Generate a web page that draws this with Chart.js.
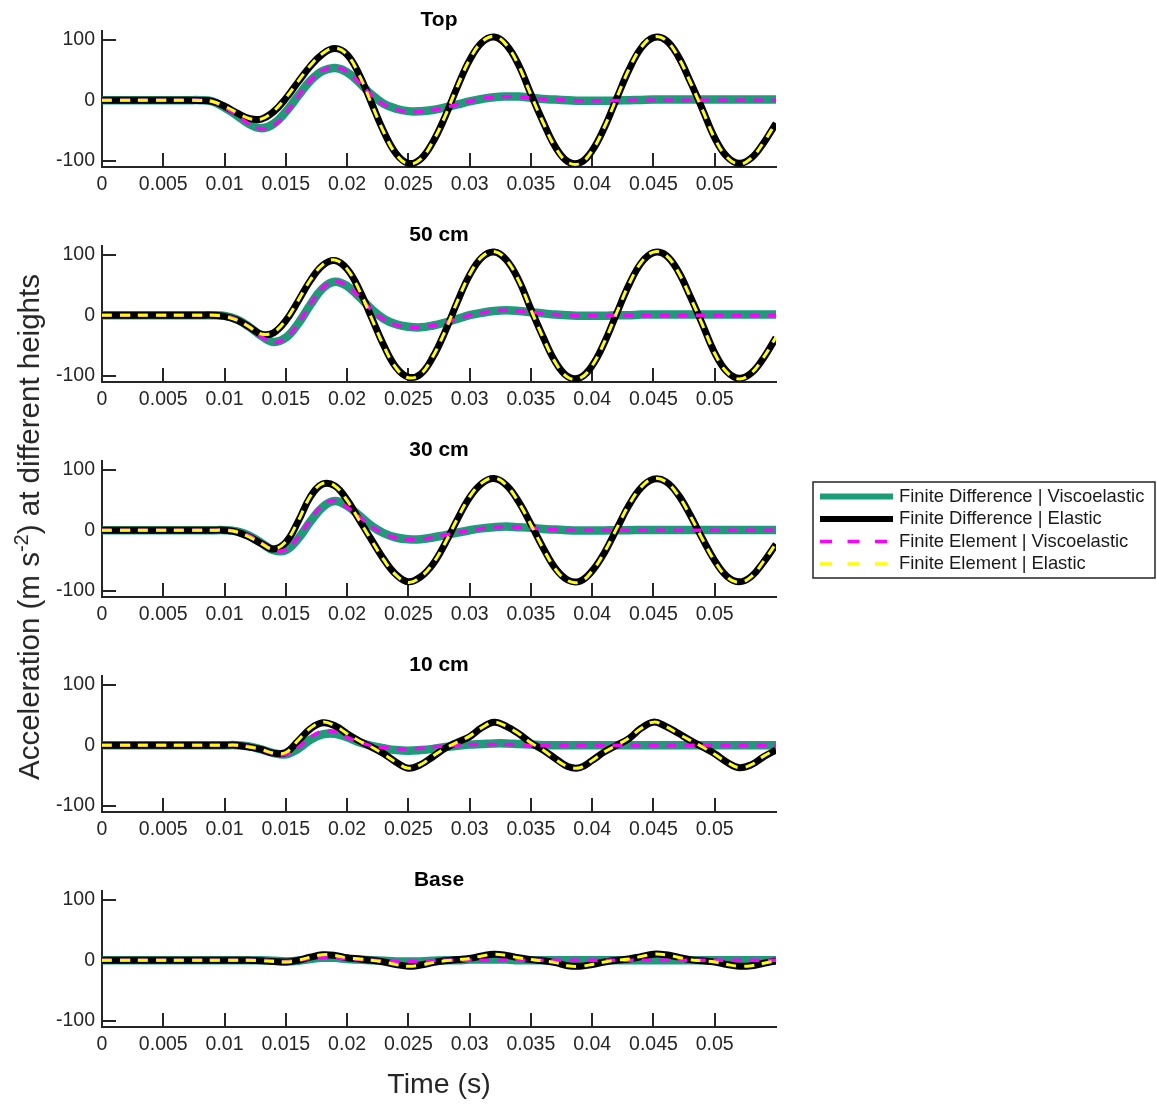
<!doctype html>
<html lang="en">
<head>
  <meta charset="UTF-8" />
  <title>Acceleration at different heights</title>
  <script src="https://cdn.jsdelivr.net/npm/chart.js@4.4.4/dist/chart.umd.min.js"></script>
  <style>
    body {
      margin: 0;
      background: #fff;
    }
    .figure {
      position: relative;
      width: 1157px;
      height: 1105px;
      overflow: hidden;
      background: #fff;
    }
    .figure canvas {
      position: absolute;
      left: 0;
    }
    .ylabel {
      position: absolute;
      left: 29px;
      top: 527px;
      transform: translate(-50%, -50%) rotate(-90deg);
      white-space: nowrap;
      font: 29.5px "Liberation Sans", Arial, sans-serif;
      color: #262626;
    }
    .ylabel sup {
      font-size: 0.68em;
      vertical-align: 0.55em;
      line-height: 0;
    }
  </style>
</head>
<body>
  <div class="figure">
    <canvas id="pTop" width="800" height="215" style="top:0px"></canvas>
    <canvas id="p50" width="800" height="215" style="top:215px"></canvas>
    <canvas id="p30" width="1157" height="215" style="top:430px"></canvas>
    <canvas id="p10" width="800" height="215" style="top:645px"></canvas>
    <canvas id="pBase" width="800" height="245" style="top:860px"></canvas>
    <div class="ylabel">Acceleration (m s<sup>-2</sup>) at different heights</div>
  </div>

  <script>
    // time samples (s) shared by every series
    const timeS = [
      0, 0.001, 0.002, 0.003, 0.004, 0.005, 0.006, 0.007, 0.008, 0.009,
      0.010, 0.011, 0.012, 0.013, 0.014, 0.015, 0.016, 0.017, 0.018, 0.019,
      0.020, 0.021, 0.022, 0.023, 0.024, 0.025, 0.026, 0.027, 0.028, 0.029,
      0.030, 0.031, 0.032, 0.033, 0.034, 0.035, 0.036, 0.037, 0.038, 0.039,
      0.040, 0.041, 0.042, 0.043, 0.044, 0.045, 0.046, 0.047, 0.048, 0.049,
      0.050, 0.051, 0.052, 0.053, 0.054, 0.055
    ];

    const xTickVals = [0, 0.005, 0.01, 0.015, 0.02, 0.025, 0.03, 0.035, 0.04, 0.045, 0.05];
    const xTickText = ['0', '0.005', '0.01', '0.015', '0.02', '0.025', '0.03', '0.035', '0.04', '0.045', '0.05'];
    const yTickVals = [-100, 0, 100];
    const yTickText = ['-100', '0', '100'];

    const panelTitles = ['Top', '50 cm', '30 cm', '10 cm', 'Base'];
    const seriesNames = [
      'Finite Difference | Viscoelastic',
      'Finite Difference | Elastic',
      'Finite Element | Viscoelastic',
      'Finite Element | Elastic'
    ];

    // Top
    const topFdVisco = [
      0, 0, 0, 0, 0, 0, 0, 0, 0, -2,
      -12, -25, -39, -46, -39, -19, 7, 32, 48, 53,
      46, 29, 9, -6, -14, -18, -18, -16, -12, -7,
      -2, 2, 5, 6, 6, 4, 2, 1, 0, -1,
      -1, -1, -0.5, 0, 0.5, 1, 1, 1, 1, 1,
      1, 1, 1, 1, 1, 1
    ];
    const topFdElastic = [
      0, 0, 0, 0, 0, 0, 0, 0, -0.5, -2,
      -10, -21, -30, -31, -19, 3, 30, 56, 76, 85,
      75, 42, -5, -52, -88, -104, -97, -69, -27, 22,
      66, 95, 104, 91, 58, 10, -36, -77, -101, -103,
      -83, -45, 3, 50, 86, 103, 99, 73, 31, -15,
      -62, -93, -104, -95, -70, -38
    ];
    const topFeVisco = [
      0, 0, 0, 0, 0, 0, 0, 0, 0, -2,
      -12, -25, -39, -47, -42, -21, 6, 32, 49, 54,
      47, 29, 8, -7, -15, -19, -19, -16, -12, -7,
      -2, 3, 5, 6, 6, 4, 2, 1, 0, -1,
      -1, -1, -0.5, 0, 0, 0, 0, 0, 0, 0,
      0, 0, 0, 0, 0, 0
    ];
    const topFeElastic = [
      0, 0, 0, 0, 0, 0, 0, 0, -0.5, -2,
      -10, -20, -30, -31, -18, 4, 31, 57, 77, 86,
      75, 41, -6, -53, -89, -105, -97, -68, -26, 23,
      67, 96, 105, 91, 57, 9, -37, -78, -102, -104,
      -83, -44, 4, 51, 87, 104, 99, 72, 30, -16,
      -63, -94, -105, -95, -69, -37
    ];

    // 50 cm
    const cm50FdVisco = [
      0, 0, 0, 0, 0, 0, 0, 0, 0, 0,
      -1, -7, -19, -34, -44, -37, -14, 17, 44, 55,
      48, 30, 10, -6, -15, -19, -20, -17, -12, -6,
      0, 4, 7, 8, 7, 5, 3, 1, 0, -1,
      -1, -1, 0, 0, 1, 1, 1, 1, 1, 1,
      1, 1, 1, 1, 1, 1
    ];
    const cm50FdElastic = [
      0, 0, 0, 0, 0, 0, 0, 0, 0, 0,
      -2, -8, -19, -31, -29, -9, 23, 57, 82, 90,
      76, 42, -4, -50, -86, -102, -97, -69, -27, 22,
      66, 95, 104, 91, 58, 10, -36, -77, -101, -103,
      -83, -45, 3, 50, 86, 103, 99, 73, 31, -15,
      -62, -93, -104, -95, -70, -37
    ];
    const cm50FeVisco = [
      0, 0, 0, 0, 0, 0, 0, 0, 0, 0,
      -1, -7, -19, -35, -45, -38, -14, 18, 45, 56,
      48, 30, 9, -7, -16, -20, -20, -17, -12, -6,
      0, 4, 7, 8, 7, 5, 3, 1, 0, -1,
      -1, -1, 0, 0, 0, 0, 0, 0, 0, 0,
      0, 0, 0, 0, 0, 0
    ];
    const cm50FeElastic = [
      0, 0, 0, 0, 0, 0, 0, 0, 0, 0,
      -2, -8, -19, -31, -28, -8, 24, 58, 83, 91,
      76, 41, -5, -51, -87, -103, -97, -68, -26, 23,
      67, 96, 105, 91, 57, 9, -37, -78, -102, -104,
      -83, -44, 4, 51, 87, 104, 99, 72, 30, -16,
      -63, -94, -105, -95, -69, -36
    ];

    // 30 cm
    const cm30FdVisco = [
      0, 0, 0, 0, 0, 0, 0, 0, 0, 0,
      0, -2, -9, -21, -33, -33, -14, 14, 38, 48,
      40, 24, 7, -5, -12, -15, -15, -12, -8, -4,
      0, 3, 5, 6, 5, 4, 2, 1, 0, -0.5,
      -0.5, -0.5, 0, 0, 0.5, 0.5, 0.5, 0.5, 0.5, 0.5,
      0.5, 0.5, 0.5, 0.5, 0.5, 0.5
    ];
    const cm30FdElastic = [
      0, 0, 0, 0, 0, 0, 0, 0, 0, 0,
      0, -3, -11, -22, -31, -20, 14, 55, 76, 73,
      50, 17, -16, -48, -73, -85, -77, -56, -22, 18,
      54, 77, 85, 74, 47, 10, -29, -63, -82, -84,
      -67, -37, 2, 41, 70, 84, 80, 59, 25, -14,
      -50, -76, -85, -76, -52, -23
    ];
    const cm30FeVisco = [
      0, 0, 0, 0, 0, 0, 0, 0, 0, 0,
      0, -2, -9, -21, -33, -32, -12, 17, 41, 49,
      38, 22, 6, -6, -13, -15, -15, -12, -8, -4,
      0, 3, 5, 6, 5, 4, 2, 1, 0, 0,
      0, 0, 0, 0, 0, 0, 0, 0, 0, 0,
      0, 0, 0, 0, 0, 0
    ];
    const cm30FeElastic = [
      0, 0, 0, 0, 0, 0, 0, 0, 0, 0,
      0, -3, -11, -22, -31, -19, 15, 56, 77, 73,
      49, 16, -17, -49, -74, -86, -77, -55, -21, 19,
      55, 78, 86, 74, 46, 9, -30, -64, -83, -85,
      -67, -36, 3, 42, 71, 85, 80, 58, 24, -15,
      -51, -77, -86, -76, -51, -22
    ];

    // 10 cm
    const cm10FdVisco = [
      0, 0, 0, 0, 0, 0, 0, 0, 0, 0,
      0, 0, -2, -7, -13, -15, -6, 9, 18, 19,
      13, 5, -1, -5, -8, -9, -8, -6, -3, -1,
      1, 2, 3, 3, 2, 1, 0, 0, 0, 0,
      0, 0, 0, 0, 0, 0, 0, 0, 0, 0,
      0, 0, 0, 0, 0, 0
    ];
    const cm10FdElastic = [
      0, 0, 0, 0, 0, 0, 0, 0, 0, 0,
      0, 0, -3, -7, -13, -12, 7, 27, 37, 32,
      19, 7, -3, -14, -28, -38, -32, -19, -5, 5,
      14, 29, 38, 31, 19, 4, -8, -22, -35, -37,
      -25, -11, 0, 11, 28, 38, 31, 20, 8, -3,
      -14, -28, -37, -32, -19, -8
    ];
    const cm10FeVisco = [
      0, 0, 0, 0, 0, 0, 0, 0, 0, 0,
      0, 0, -2, -7, -14, -15, -4, 13, 23, 22,
      13, 5, -1, -4, -6, -6, -5, -3, -1, 0,
      1, 1, 1, 1, 1, 0, 0, 0, 0, 0,
      0, 0, 0, 0, 0, 0, 0, 0, 0, 0,
      0, 0, 0, 0, 0, 0
    ];
    const cm10FeElastic = [
      0, 0, 0, 0, 0, 0, 0, 0, 0, 0,
      0, 0, -3, -7, -13, -12, 8, 28, 38, 32,
      19, 7, -3, -15, -28, -38, -32, -18, -5, 5,
      15, 29, 38, 31, 19, 4, -8, -23, -35, -37,
      -25, -11, 0, 12, 28, 38, 31, 19, 8, -3,
      -15, -28, -37, -32, -18, -7
    ];

    // Base
    const baseFdVisco = [
      0, 0, 0, 0, 0, 0, 0, 0, 0, 0,
      0, 0, 0, 0, -1, -2, -1, 2, 4, 4,
      2, 1, 0, -1, -2, -2, -2, -1, 0, 0,
      1, 1, 1, 1, 0, 0, 0, 0, 0, 0,
      0, 0, 0, 0, 0, 0, 0, 0, 0, 0,
      0, 0, 0, 0, 0, 0
    ];
    const baseFdElastic = [
      0, 0, 0, 0, 0, 0, 0, 0, 0, 0,
      0, 0, 0, -1, -2, -3, 0, 5, 9, 8,
      4, 2, 0, -3, -7, -10, -8, -4, -1, 1,
      3, 7, 10, 8, 4, 1, -1, -4, -9, -10,
      -7, -3, 0, 2, 6, 10, 9, 5, 1, -1,
      -3, -7, -10, -9, -5, -1
    ];
    const baseFeVisco = [
      0, 0, 0, 0, 0, 0, 0, 0, 0, 0,
      0, 0, 0, 0, -1, -2, 0, 3, 5, 4,
      2, 1, 0, -1, -2, -2, -2, -1, 0, 0,
      0, 0, 0, 0, 0, 0, 0, 0, 0, 0,
      0, 0, 0, 0, 0, 0, 0, 0, 0, 0,
      0, 0, 0, 0, 0, 0
    ];
    const baseFeElastic = [
      0, 0, 0, 0, 0, 0, 0, 0, 0, 0,
      0, 0, 0, -1, -2, -3, 0, 5, 9, 8,
      4, 2, 0, -3, -7, -10, -8, -4, -1, 1,
      3, 7, 10, 8, 4, 1, -1, -4, -9, -10,
      -7, -3, 0, 2, 6, 10, 9, 5, 1, -1,
      -3, -7, -10, -9, -5, -1
    ];

    const FONT = '"Liberation Sans", Arial, Helvetica, sans-serif';
    const INK = '#262626';
    const PLOT_LEFT = 102;
    const PLOT_RIGHT = 776;
    const PLOT_BOTTOM = 167;

    // drawing order: yellow on top, green at the back
    const styles = [
      { color: '#1b9e77', width: 8.5, dash: [], order: 4 },
      { color: '#000000', width: 7, dash: [], order: 3 },
      { color: '#ff00ff', width: 3.5, dash: [10, 8], order: 2 },
      { color: '#ffff00', width: 3, dash: [10, 8], order: 1 }
    ];

    const panels = [
      { id: 'pTop', title: panelTitles[0], series: [topFdVisco, topFdElastic, topFeVisco, topFeElastic] },
      { id: 'p50', title: panelTitles[1], series: [cm50FdVisco, cm50FdElastic, cm50FeVisco, cm50FeElastic] },
      { id: 'p30', title: panelTitles[2], series: [cm30FdVisco, cm30FdElastic, cm30FeVisco, cm30FeElastic], legend: true },
      { id: 'p10', title: panelTitles[3], series: [cm10FdVisco, cm10FdElastic, cm10FeVisco, cm10FeElastic] },
      { id: 'pBase', title: panelTitles[4], series: [baseFdVisco, baseFdElastic, baseFeVisco, baseFeElastic], xTitle: 'Time (s)' }
    ];

    // boxed legend to the right of the 30 cm panel (canvas coords)
    const legendBox = {
      id: 'legendBox',
      afterDraw(chart) {
        const ctx = chart.ctx;
        ctx.save();
        ctx.fillStyle = '#ffffff';
        ctx.fillRect(813, 52, 342, 96);
        ctx.strokeStyle = INK;
        ctx.lineWidth = 1.5;
        ctx.strokeRect(813, 52, 342, 96);
        ctx.font = '18.4px ' + FONT;
        ctx.textBaseline = 'middle';
        ctx.textAlign = 'left';
        chart.data.datasets.forEach((ds, i) => {
          const y = 66.5 + i * 22.5;
          ctx.beginPath();
          ctx.setLineDash(ds.borderDash.length ? [12, 15.5] : []);
          ctx.strokeStyle = ds.borderColor;
          ctx.lineWidth = ds.borderDash.length ? 3.5 : 6;
          ctx.moveTo(820, y);
          ctx.lineTo(893, y);
          ctx.stroke();
          ctx.setLineDash([]);
          ctx.fillStyle = '#1a1a1a';
          ctx.fillText(ds.label, 899, y);
        });
        ctx.restore();
      }
    };

    function makePanel(panel) {
      const canvas = document.getElementById(panel.id);
      const axisHeight = canvas.height - PLOT_BOTTOM;
      const axisLine = { display: true, color: INK, width: 2 };
      const tickMarks = { drawOnChartArea: false, drawTicks: true, tickLength: -14, color: INK, lineWidth: 2 };

      return new Chart(canvas, {
        type: 'line',
        data: {
          datasets: panel.series.map((vals, i) => ({
            label: seriesNames[i],
            data: timeS.map((t, j) => ({ x: t, y: vals[j] })),
            borderColor: styles[i].color,
            backgroundColor: styles[i].color,
            borderWidth: styles[i].width,
            borderDash: styles[i].dash,
            order: styles[i].order,
            pointRadius: 0,
            tension: 0.4,
            fill: false
          }))
        },
        options: {
          responsive: false,
          animation: false,
          events: [],
          layout: {
            autoPadding: false,
            padding: { left: 0, top: 0, bottom: 0, right: canvas.width - PLOT_RIGHT }
          },
          plugins: {
            legend: { display: false },
            tooltip: { enabled: false },
            title: {
              display: true,
              text: panel.title,
              fullSize: false,
              color: '#000000',
              font: { family: FONT, size: 21, weight: 'bold', lineHeight: 1 },
              padding: { top: 10, bottom: 0 }
            }
          },
          scales: {
            x: {
              type: 'linear',
              position: 'bottom',
              min: 0,
              max: 0.055,
              afterBuildTicks: (s) => { s.ticks = xTickVals.map((v) => ({ value: v })); },
              afterFit: (s) => { s.height = axisHeight; s.paddingLeft = 0; s.paddingRight = 0; },
              ticks: {
                autoSkip: false,
                maxRotation: 0,
                minRotation: 0,
                padding: 19.5,
                color: INK,
                font: { family: FONT, size: 19.5 },
                callback: (v, i) => xTickText[i]
              },
              grid: tickMarks,
              border: axisLine,
              title: panel.xTitle ? {
                display: true,
                text: panel.xTitle,
                color: INK,
                font: { family: FONT, size: 28.5, lineHeight: 1.2 },
                padding: { top: 0, bottom: 3 }
              } : { display: false }
            },
            y: {
              type: 'linear',
              position: 'left',
              min: -110,
              max: 114,
              afterBuildTicks: (s) => { s.ticks = yTickVals.map((v) => ({ value: v })); },
              afterFit: (s) => { s.width = PLOT_LEFT; s.paddingTop = 0; s.paddingBottom = 0; },
              ticks: {
                padding: 21,
                color: INK,
                font: { family: FONT, size: 19.5 },
                callback: (v, i) => yTickText[i]
              },
              grid: tickMarks,
              border: axisLine
            }
          }
        },
        plugins: panel.legend ? [legendBox] : []
      });
    }

    panels.forEach(makePanel);
  </script>
</body>
</html>
